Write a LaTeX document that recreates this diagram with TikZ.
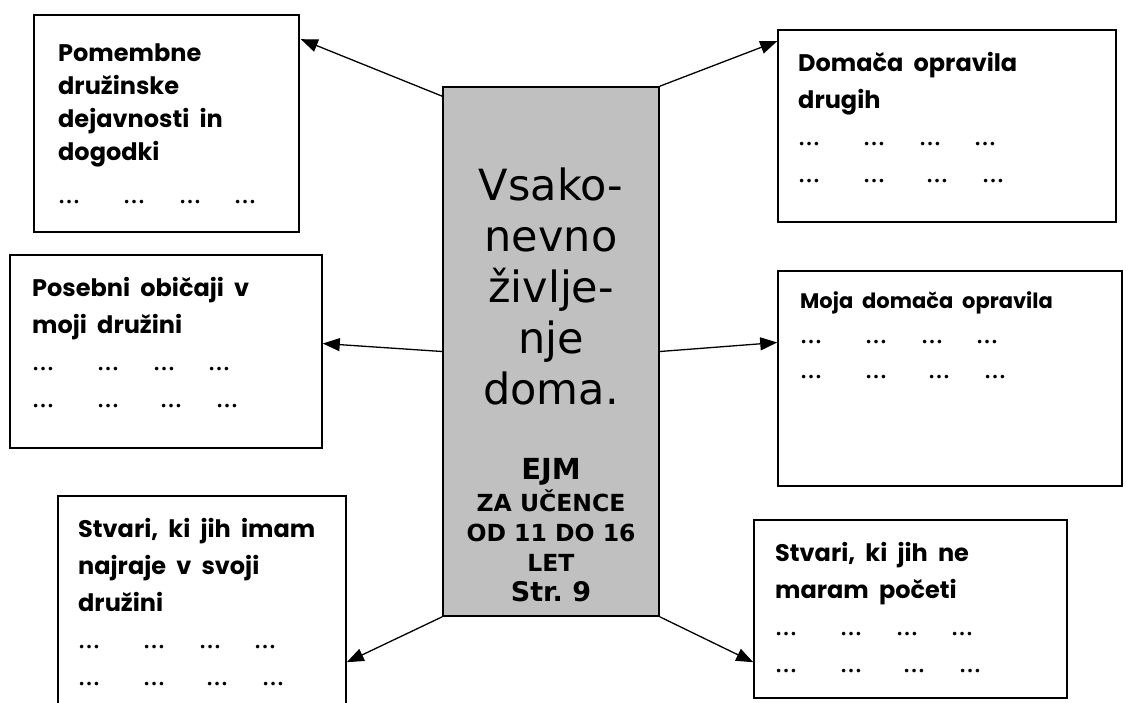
\documentclass[tikz,border=0pt]{standalone}
\usepackage{fontspec}
\setmainfont{DejaVu Sans}
\newfontfamily\boxfont[WordSpace=2.0]{Poppins}
\newfontfamily\dotfont{Liberation Serif}
\usetikzlibrary{arrows.meta,calc}
\definecolor{hubgray}{RGB}{192,192,192}
\frenchspacing

% rows of dots under the headings
\newcommand{\dotsa}{{\dotfont\fontsize{22}{22}\selectfont\makebox[65pt][l]{…}\makebox[56pt][l]{…}\makebox[55pt][l]{…}…}}
\newcommand{\dotsb}{{\dotfont\fontsize{22}{22}\selectfont\makebox[65pt][l]{…}\makebox[63pt][l]{…}\makebox[56pt][l]{…}…}}

\tikzset{
  infobox/.style={draw, line width=1.6pt, fill=white, inner sep=0pt},
  hubbox/.style={draw, line width=1.6pt, fill=hubgray, inner sep=0pt},
  boxtext/.style={anchor=base west, align=left, inner sep=0pt,
    font=\boxfont\bfseries\fontsize{24}{37}\selectfont},
  arr/.style={line width=1.3pt, -{Triangle[length=17pt,width=13pt]}}
}

\begin{document}
\begin{tikzpicture}[x=1pt,y=-1pt]
        \useasboundingbox (0,0) rectangle (1126,702);
        \clip (0,0) rectangle (1126,702);

        % centre box (texts placed by the baseline of their last line)
        \node[hubbox, minimum width=216pt, minimum height=529pt] (hub) at (551,351.5) {};
        \node[anchor=base, align=center, inner sep=0pt, font=\fontsize{43}{51}\selectfont] (title) at (551,404)
          {Vsako-\\nevno\\življe-\\nje\\doma.};
        \node[anchor=base, align=center, inner sep=0pt, font=\bfseries\fontsize{23.5}{30}\selectfont] (ejm) at (551,601)
          {{\fontsize{29}{30}\selectfont EJM}\\[2pt]ZA UČENCE\\OD 11 DO 16\\LET\\{\fontsize{27}{30}\selectfont Str. 9}};

        % outer boxes
        \node[infobox, minimum width=265pt, minimum height=217pt] (pomembne) at (166.5,123.5) {};
        \node[infobox, minimum width=338pt, minimum height=192pt] (drugih) at (947,126) {};
        \node[infobox, minimum width=312pt, minimum height=193pt] (obicaji) at (166,351.5) {};
        \node[infobox, minimum width=344pt, minimum height=215pt] (moja) at (950,378.5) {};
        \node[infobox, minimum width=288pt, minimum height=224pt] (najraje) at (202,608) {};
        \node[infobox, minimum width=313pt, minimum height=178pt] (nemaram) at (910.5,609) {};

        % texts in the boxes
        \node[boxtext, font=\boxfont\bfseries\fontsize{24}{33}\selectfont] (t1) at (58,203)
          {Pomembne\\družinske\\dejavnosti in\\dogodki\\[10pt]\dotsa};
        \node[boxtext] (t2) at (798,182) {Domača opravila\\drugih\\\dotsa\\\dotsb};
        \node[boxtext] (t3) at (32,407) {Posebni običaji v\\moji družini\\\dotsa\\\dotsb};
        \node[boxtext, font=\boxfont\bfseries\fontsize{21}{35}\selectfont] (t4) at (800,378)
          {Moja domača opravila\\\dotsa\\\dotsb};
        \node[boxtext] (t5) at (78,685) {Stvari, ki jih imam\\najraje v svoji\\družini\\\dotsa\\\dotsb};
        \node[boxtext] (t6) at (775,672) {Stvari, ki jih ne\\maram početi\\\dotsa\\\dotsb};

        % arrows
        \draw[arr] ($(hub.north west)+(0,10)$) -- ($(pomembne.north east)+(1,25)$);
        \draw[arr] (hub.north east) -- ($(drugih.north west)+(0,12)$);
        \draw[arr] (hub.west) -- ($(obicaji.east)+(0,-8)$);
        \draw[arr] (hub.east) -- ($(moja.west)+(0,-36)$);
        \draw[arr] (hub.south west) -- ($(najraje.north east)+(0,167)$);
        \draw[arr] (hub.south east) -- ($(nemaram.north west)+(0,143)$);

\end{tikzpicture}
\end{document}
